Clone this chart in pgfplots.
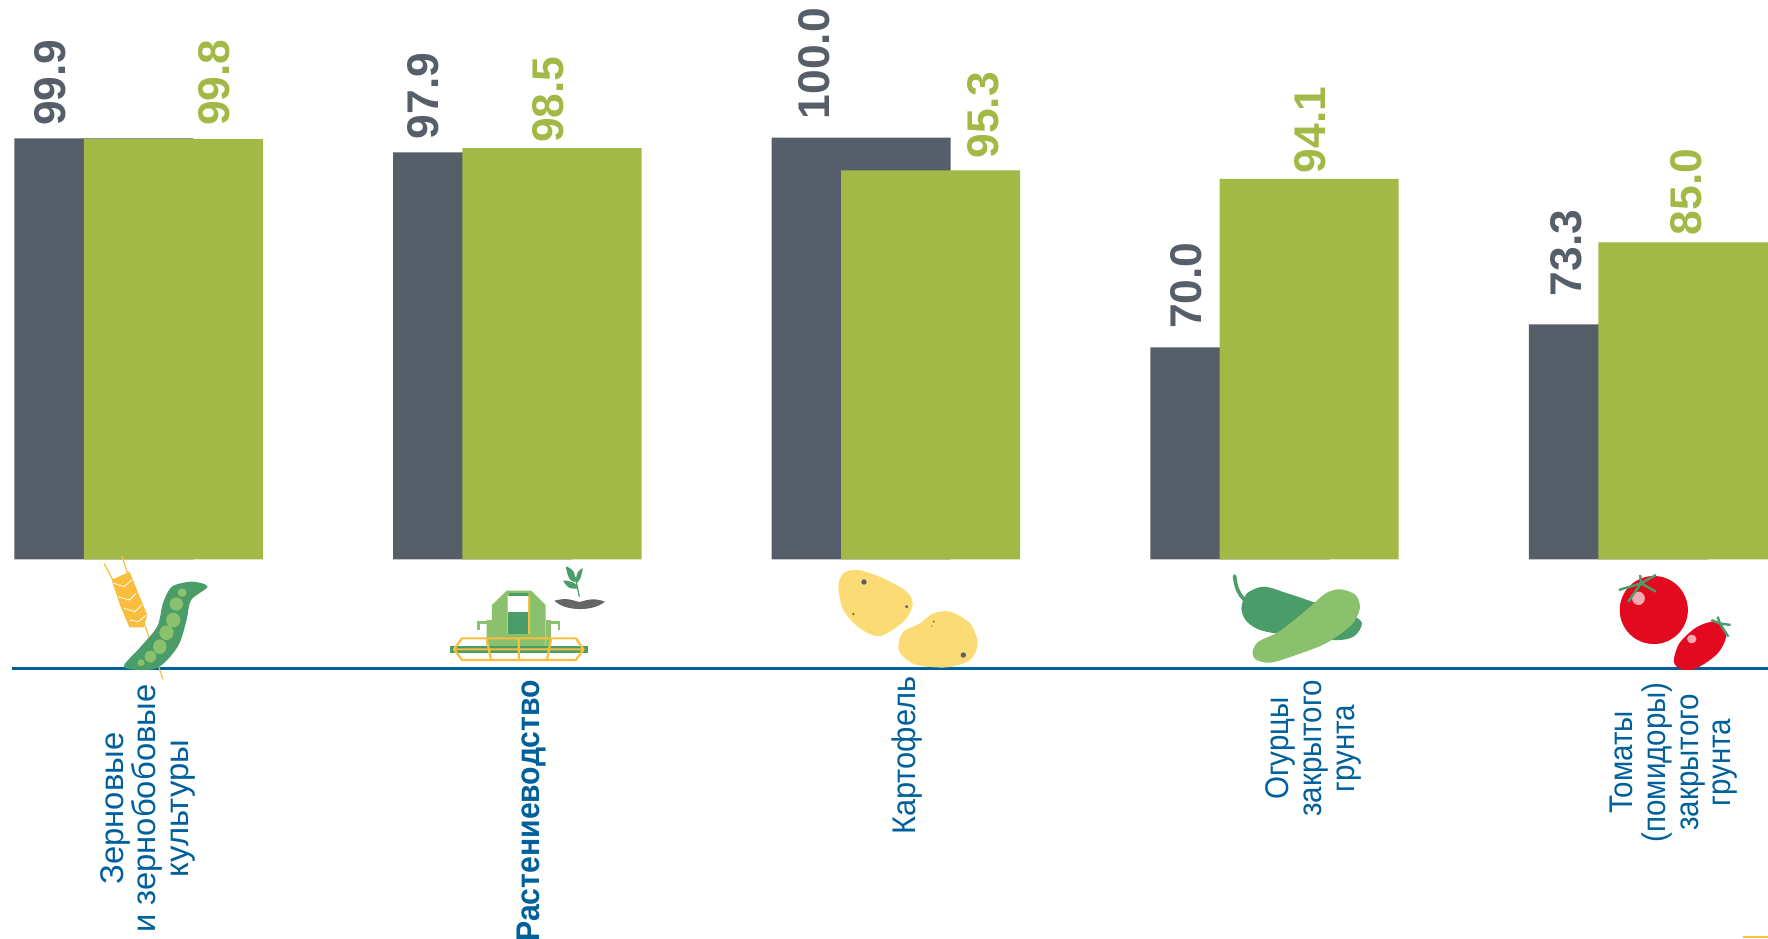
\documentclass[border=0pt]{standalone}
\usepackage{fontspec}
\setmainfont{Liberation Sans}
% the labels of the reference are set a little condensed
\newfontfamily\lblmid[FakeStretch=0.94]{Liberation Sans}
\newfontfamily\lblnarrow[FakeStretch=0.90]{Liberation Sans}
\newfontfamily\lblbold[FakeStretch=0.92]{Liberation Sans Bold}
\usepackage{pgfplots}
\usepackage{pgfplotstable}
\pgfplotsset{compat=1.18}

\definecolor{barGrey}{HTML}{565E69}
\definecolor{barGreen}{HTML}{A2B946}
\definecolor{textBlue}{HTML}{00609C}
\definecolor{iconYellow}{HTML}{F9BE3D}
\definecolor{iconPotato}{HTML}{FCDB74}
\definecolor{iconDark}{HTML}{4A9D68}
\definecolor{iconLight}{HTML}{8BC06C}
\definecolor{iconRed}{HTML}{E30A20}

% bars: group index, value
\pgfplotstableread{
x v
0 99.9
1 97.9
2 100.0
3 70.0
4 73.3
}\greybars
\pgfplotstableread{
x v
0 99.8
1 98.5
2 95.3
3 94.1
4 85.0
}\greenbars
% value labels sit at their own places: x, y of the label foot, value
\pgfplotstableread{
x y v
-0.2325 101.64 99.9
0.751 99.7 97.9
1.784 102.6 100.0
2.766 72.6 70.0
3.770 77.28 73.3
}\greylabels
\pgfplotstableread{
x y v
0.199 101.64 99.8
1.081 99.2 98.5
2.230 96.96 95.3
3.094 94.86 94.1
4.087 85.99 85.0
}\greenlabels

\begin{document}
\begin{tikzpicture}[x=1pt,y=1pt]
\path[use as bounding box,clip] (0,0) rectangle (884,469);
\begin{axis}[
    at={(0pt,189.35pt)},
    anchor=south west,
    scale only axis,
    width=884pt,
    height=279.65pt,
    xmin=-0.3663, xmax=4.3034,
    ymin=39.68, ymax=119.69,
    axis x line*=bottom,
    axis y line=none,
    x axis line style={draw=none},
    xtick={0.024,1.0384,2.0284,3.1034,4.0544},
    xticklabels={
      {Зерновые\kern3.9pt\\и зернобобовые\kern3.9pt\\культуры\kern3.9pt},
      {\lblbold Растениеводство\kern1.7pt},
      {\lblmid Картофель},
      {\lblnarrow Огурцы\kern1.7pt\\\lblnarrow закрытого\kern1.7pt\\\lblnarrow грунта\kern1.7pt},
      {\lblnarrow Томаты\kern2.8pt\\\lblnarrow (помидоры)\kern2.8pt\\\lblnarrow закрытого\kern2.8pt\\\lblnarrow грунта\kern2.8pt}},
    major tick length=0pt,
    xticklabel style={rotate=90, anchor=east, align=center, text=textBlue,
      font=\fontsize{16.4}{16.4}\selectfont, inner sep=0pt, xshift=-58.5pt},
    nodes near coords style={rotate=90, anchor=west, inner sep=0pt,
      font=\fontsize{22.2}{22.2}\selectfont\bfseries},
    /pgf/number format/.cd, fixed, fixed zerofill, precision=1, assume math mode=true,
  ]
  \addplot[ybar, bar width=89.5pt, bar shift=-17.35pt, fill=barGrey, draw=none]
    table[x=x, y=v] {\greybars};
  \addplot[ybar, bar width=89.5pt, bar shift=17.35pt, fill=barGreen, draw=none]
    table[x=x, y=v] {\greenbars};
  \addplot[draw=none, mark=none, text=barGrey, point meta=explicit, nodes near coords,
    nodes near coords style={text=barGrey}]
    table[x=x, y=y, meta=v] {\greylabels};
  \addplot[draw=none, mark=none, text=barGreen, point meta=explicit, nodes near coords,
    nodes near coords style={text=barGreen}]
    table[x=x, y=y, meta=v] {\greenlabels};
\end{axis}

% blue base line, corner mark
\fill[textBlue] (6,133.8) rectangle (884,135.4);
\fill[iconYellow] (871.5,0) rectangle (884,1);

% icons, in the crop pixels of the reference from (0,540)
\begin{scope}[shift={(0,199)},x=0.2232pt,y=-0.1667pt]
  % wheat
  \draw[iconYellow,line width=0.6pt] (273,48) -- (365,418);
  \draw[iconYellow,line width=0.6pt] (233,70) -- (255,125);
  \fill[iconYellow] (250,120) -- (290,95) -- (330,225) -- (322,262) -- (290,262) -- (270,200) -- cycle;
  \draw[white,line width=0.4pt] (255,130) -- (278,140) -- (295,120)
    (265,170) -- (290,180) -- (305,160) (278,205) -- (302,215) -- (318,195) (290,240) -- (310,245) -- (328,225);
  % pea pod
  \fill[iconDark] plot[smooth cycle] coordinates {(465,140) (430,125) (385,140) (365,190) (352,260) (312,325) (278,382) (350,385) (398,320) (418,240) (428,180)};
  \fill[iconLight] (408,158) ellipse (10 and 13) (395,192) ellipse (15 and 20)
    (388,240) ellipse (16 and 22) (373,278) ellipse (16 and 22) (358,320) ellipse (15 and 22)
    (337,350) ellipse (13 and 18) (316,368) ellipse (8 and 10);
  % harvester
  \fill[iconLight] (1135,152) -- (1190,152) -- (1222,195) -- (1222,320) -- (1090,320) -- (1090,240) -- (1102,240) -- (1102,195) -- cycle;
  \draw[iconLight,line width=1.2pt] (1090,247) -- (1072,247) -- (1072,270) (1235,247) -- (1252,247) -- (1252,270);
  \fill[iconLight] (1222,240) rectangle (1235,320);
  \fill[white] (1137,168) rectangle (1185,215);
  \fill[iconDark] (1137,215) rectangle (1185,282);
  \fill[iconDark] (1140,158) rectangle (1183,168);
  \fill[iconDark] (1008,318) rectangle (1318,338);
  \draw[iconYellow,line width=0.6pt] (1137,168) -- (1137,282) (1185,168) -- (1185,282);
  \draw[iconYellow,line width=1.1pt] (1035,295) -- (1290,295) -- (1307,328) -- (1290,360) -- (1035,360) -- (1017,328) -- cycle
    (1017,328) -- (1307,328) (1090,295) -- (1100,360) (1162,295) -- (1162,360) (1235,295) -- (1225,360);
  % sprout on soil
  \fill[black!60] (1242,182) .. controls (1270,172) and (1280,180) .. (1298,186) .. controls (1315,180) and (1330,172) .. (1355,185) .. controls (1330,215) and (1265,215) .. cycle;
  \draw[iconDark,line width=0.6pt] (1288,110) -- (1298,170);
  \fill[iconDark] plot[smooth cycle] coordinates {(1268,80) (1285,95) (1288,125) (1275,115)}
    plot[smooth cycle] coordinates {(1305,85) (1300,115) (1290,130) (1293,100)}
    plot[smooth cycle] coordinates {(1262,122) (1285,128) (1295,145) (1275,143)};
\end{scope}

% potatoes, crop pixels from (800,550)
\begin{scope}[shift={(400,194)},x=0.1667pt,y=-0.1667pt]
  \fill[iconPotato] plot[smooth cycle] coordinates {(115,110) (130,70) (175,60) (250,85) (320,125) (338,165) (310,215) (240,258) (180,235) (130,180)};
  \fill[iconPotato] plot[smooth cycle] coordinates {(295,285) (310,245) (360,220) (400,190) (450,185) (510,220) (533,280) (510,330) (440,352) (350,345) (305,315)};
  \fill[barGrey] (192,96) circle (8) (320,170) circle (5) (160,192) circle (4) (490,315) circle (8) (401,215) circle (3) (395,228) circle (2);
\end{scope}

\begin{scope}[shift={(550,199)},x=0.2130pt,y=-0.1667pt]
  % cucumbers
  \draw[iconDark,line width=1.8pt,line cap=round] (316,108) .. controls (318,140) and (325,160) .. (338,178);
  \fill[iconDark] plot[smooth cycle] coordinates {(332,205) (345,160) (385,140) (440,160) (510,190) (590,225) (615,250) (595,290) (540,300) (390,275) (345,245)};
  \fill[iconLight] plot[smooth cycle] coordinates {(358,335) (372,305) (420,275) (480,215) (530,160) (565,148) (600,165) (610,205) (590,255) (530,310) (460,345) (400,368) (365,358)};
  % tomatoes
  \fill[iconRed] (1300,210) ellipse (80 and 102);
  \fill[iconRed] plot[smooth cycle] coordinates {(1347,365) (1360,310) (1400,262) (1445,245) (1470,285) (1450,340) (1400,385) (1365,388)};
  \fill[white!65!iconRed] (1264,175) ellipse (15 and 20) (1389,297) ellipse (11 and 13);
  \draw[iconDark,line width=1.2pt] (1268,105) -- (1270,130) (1218,150) -- (1270,130) (1305,155) -- (1270,130)
    (1305,105) -- (1270,130) (1240,185) -- (1270,130)
    (1435,240) -- (1455,250) (1450,230) -- (1455,250) (1480,255) -- (1455,250) (1475,290) -- (1455,250);
\end{scope}
\end{tikzpicture}
\end{document}
